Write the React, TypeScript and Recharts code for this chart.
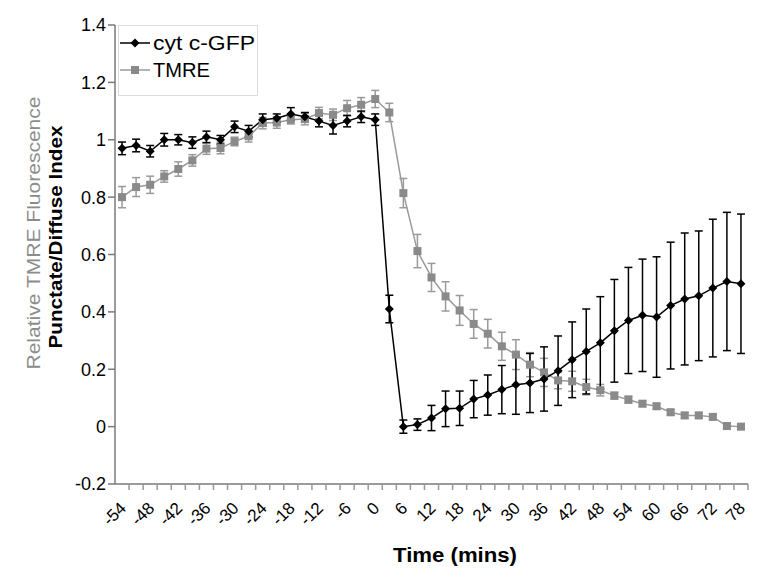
import { LineChart, Line, XAxis, YAxis, ErrorBar, Legend, Label } from "recharts";

const times = [
  -54, -51, -48, -45, -42, -39, -36, -33, -30, -27, -24, -21, -18, -15, -12, -9, -6, -3, 0,
  3, 6, 9, 12, 15, 18, 21, 24, 27, 30, 33, 36, 39, 42, 45, 48, 51, 54, 57, 60, 63, 66, 69, 72, 75, 78,
];
const tickLabels = [
  "-54", "-48", "-42", "-36", "-30", "-24", "-18", "-12", "-6", "0", "6", "12",
  "18", "24", "30", "36", "42", "48", "54", "60", "66", "72", "78",
];
const yTicks = [-0.2, 0, 0.2, 0.4, 0.6, 0.8, 1, 1.2, 1.4];

const cytValues = [
  0.97, 0.98, 0.96, 1.0, 1.0, 0.99, 1.01, 1.0, 1.045, 1.03, 1.07, 1.075, 1.09, 1.08, 1.065, 1.05, 1.065, 1.08, 1.07,
  0.41, 0.0, 0.007, 0.03, 0.062, 0.064, 0.096, 0.11, 0.129, 0.146, 0.152, 0.166, 0.195, 0.233, 0.262, 0.292, 0.334,
  0.37, 0.388, 0.382, 0.422, 0.445, 0.456, 0.483, 0.506, 0.498,
];
const cytErrors = [
  0.022, 0.022, 0.02, 0.022, 0.018, 0.02, 0.02, 0.015, 0.02, 0.02, 0.02, 0.015, 0.022, 0.015, 0.02, 0.03, 0.02, 0.02, 0.02,
  0.048, 0.023, 0.02, 0.044, 0.062, 0.06, 0.065, 0.07, 0.084, 0.103, 0.103, 0.112, 0.121, 0.132, 0.148, 0.161, 0.179,
  0.185, 0.196, 0.21, 0.221, 0.23, 0.226, 0.24, 0.241, 0.243,
];
const tmreValues = [
  0.8, 0.835, 0.843, 0.872, 0.898, 0.928, 0.969, 0.971, 0.994, 1.012, 1.058, 1.06, 1.07, 1.072, 1.093, 1.087, 1.11, 1.122, 1.142,
  1.095, 0.814, 0.612, 0.52, 0.454, 0.405, 0.358, 0.324, 0.28, 0.251, 0.216, 0.189, 0.161, 0.158, 0.138, 0.127, 0.108,
  0.094, 0.08, 0.071, 0.05, 0.039, 0.039, 0.034, 0.002, 0.0,
];
const tmreErrors = [
  0.037, 0.033, 0.03, 0.02, 0.025, 0.02, 0.02, 0.02, 0.015, 0.02, 0.02, 0.02, 0.015, 0.02, 0.02, 0.02, 0.027, 0.025, 0.03,
  0.032, 0.051, 0.058, 0.049, 0.051, 0.052, 0.05, 0.05, 0.049, 0.052, 0.042, 0.049, 0.029, 0.035, 0.027, 0.02, 0.012,
  0.012, 0.01, 0.01, 0.01, 0.01, 0.01, 0.01, 0.01, 0.01,
];

const data = times.map((t, i) => ({
  t,
  cyt: cytValues[i],
  cytErr: cytErrors[i],
  tmre: tmreValues[i],
  tmreErr: tmreErrors[i],
}));

const FONT = "'Liberation Sans', Arial, sans-serif";
const AXIS = "#7a7a7a";
const GREY_LINE = "#9a9a9a";
const GREY_MARK = "#8a8a8a";
// half of one 3-minute step in pixels (plot is 633px wide for 45 steps)
const HALF = 633 / 45 / 2;

const Diamond = ({ cx, cy, index }: any) => (
  <path
    key={`c-${index}`}
    d={`M${cx} ${cy - 4.5}L${cx + 4.5} ${cy}L${cx} ${cy + 4.5}L${cx - 4.5} ${cy}Z`}
    fill="#000"
  />
);

const Square = ({ cx, cy, index }: any) => (
  <rect key={`s-${index}`} x={cx - 4} y={cy - 4} width={8} height={8} fill={GREY_MARK} />
);

const TimeTick = ({ x, y, payload }: any) => {
  const label = tickLabels.find((l) => Number(l) === payload.value);
  const tx = x + 1;
  const ty = y + 21;
  return (
    <g>
      <line x1={x + HALF} y1={y} x2={x + HALF} y2={y + 6} stroke="#999" strokeWidth={1.5} />
      {label !== undefined && (
        <text
          x={tx}
          y={ty}
          textAnchor="end"
          dy="0.35em"
          fontSize={17}
          fontFamily={FONT}
          fill="#000"
          transform={`rotate(-45 ${tx} ${ty})`}
        >
          {label}
        </text>
      )}
    </g>
  );
};

const LegendBox = () => (
  <svg width={140} height={71} style={{ display: "block" }}>
    <rect x={0.5} y={0.5} width={139} height={70} fill="#fff" stroke="#dcdcdc" />
    <line x1={2} y1={18} x2={32} y2={18} stroke="#000" strokeWidth={1.5} />
    <Diamond cx={17} cy={18} index={0} />
    <text x={35} y={18} dy="0.35em" fontSize={20} fontFamily={FONT} fill="#000" textLength={102} lengthAdjust="spacingAndGlyphs">
      cyt c-GFP
    </text>
    <line x1={2} y1={45} x2={32} y2={45} stroke={GREY_LINE} strokeWidth={1.5} />
    <Square cx={17} cy={45} index={0} />
    <text x={35} y={45} dy="0.35em" fontSize={20} fontFamily={FONT} fill="#000" textLength={57} lengthAdjust="spacingAndGlyphs">
      TMRE
    </text>
  </svg>
);

export default function App() {
  return (
    <div style={{ position: "absolute", left: 0, top: 0, width: 779, height: 581, background: "#fff" }}>
      <LineChart width={779} height={581} data={data} margin={{ top: 25, right: 31, bottom: 37, left: 0 }}>
        <XAxis
          type="number"
          dataKey="t"
          domain={[-55.5, 79.5]}
          ticks={times}
          interval={0}
          tick={<TimeTick />}
          tickLine={false}
          tickSize={0}
          tickMargin={0}
          height={60}
          stroke={AXIS}
          strokeWidth={1.5}
        >
          <Label
            content={() => (
              <text x={455} y={555} textAnchor="middle" dy="0.35em" fontSize={20} fontWeight="bold" fontFamily={FONT} fill="#000" textLength={124} lengthAdjust="spacingAndGlyphs">
                Time (mins)
              </text>
            )}
          />
        </XAxis>
        <YAxis
          domain={[-0.2, 1.4]}
          ticks={yTicks}
          interval={0}
          width={115}
          tickSize={7}
          tickMargin={2}
          stroke={AXIS}
          strokeWidth={1.5}
          tick={{ fontSize: 18, fontFamily: FONT, fill: "#000" }}
        >
          <Label
            content={() => (
              <g>
                <text x={33} y={233} textAnchor="middle" dy="0.35em" fontSize={19} fontFamily={FONT} fill="#8c8c8c" transform="rotate(-90 33 233)" textLength={273} lengthAdjust="spacingAndGlyphs">
                  Relative TMRE Fluorescence
                </text>
                <text x={55} y={237} textAnchor="middle" dy="0.35em" fontSize={19} fontWeight="bold" fontFamily={FONT} fill="#000" transform="rotate(-90 55 237)" textLength={223} lengthAdjust="spacingAndGlyphs">
                  Punctate/Diffuse Index
                </text>
              </g>
            )}
          />
        </YAxis>
        <Legend
          layout="horizontal"
          verticalAlign="middle"
          align="center"
          content={() => <LegendBox />}
          wrapperStyle={{ left: 118, top: 25, width: 140, height: 71 }}
        />
        <Line
          dataKey="tmre"
          name="TMRE"
          stroke={GREY_LINE}
          strokeWidth={1.5}
          dot={Square}
          activeDot={false}
          isAnimationActive={false}
        >
          <ErrorBar dataKey="tmreErr" width={4} stroke={GREY_LINE} strokeWidth={1.5} direction="y" />
        </Line>
        <Line
          dataKey="cyt"
          name="cyt c-GFP"
          stroke="#000"
          strokeWidth={1.5}
          dot={Diamond}
          activeDot={false}
          isAnimationActive={false}
        >
          <ErrorBar dataKey="cytErr" width={4} stroke="#000" strokeWidth={1.5} direction="y" />
        </Line>
      </LineChart>
    </div>
  );
}
